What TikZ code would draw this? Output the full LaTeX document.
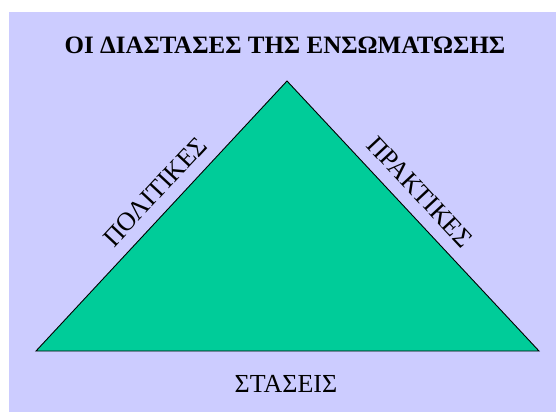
\documentclass[tikz,border=0pt]{standalone}
\usepackage{fontspec}
\setmainfont{Liberation Serif}
\usepackage{tikz}
\usetikzlibrary{positioning, calc}
\definecolor{slidebg}{HTML}{CCCCFF}
\definecolor{trigreen}{HTML}{00CC99}
\tikzstyle{titletext} = [
  font=\fontsize{25}{28}\selectfont\bfseries, inner sep=0pt
]
\tikzstyle{sidetext} = [
  font=\fontsize{26}{29}\selectfont, inner sep=0pt
]
\tikzstyle{triangle} = [fill=trigreen, draw=black, line width=0.9pt, line join=miter]

\begin{document}
\begin{tikzpicture}[x=1pt, y=1pt]

  \useasboundingbox (0, 0) rectangle (556, 412);
  \fill[slidebg] (9, 0) rectangle (556, 400);

  \coordinate (apex) at (287, 331);
  \coordinate (baseL) at (36, 61);
  \coordinate (baseR) at (539, 61);
  \draw[triangle] (apex) -- (baseL) -- (baseR) -- cycle;

  \node[titletext] (title) at (285, 367) {ΟΙ ΔΙΑΣΤΑΣΕΣ ΤΗΣ ΕΝΣΩΜΑΤΩΣΗΣ};
  \node[sidetext, rotate=47] (politikes) at (155, 220) {ΠΟΛΙΤΙΚΕΣ};
  \node[sidetext, rotate=-47] (praktikes) at (420, 220) {ΠΡΑΚΤΙΚΕΣ};
  \node[sidetext] (staseis) at (286, 28) {ΣΤΑΣΕΙΣ};

\end{tikzpicture}
\end{document}
